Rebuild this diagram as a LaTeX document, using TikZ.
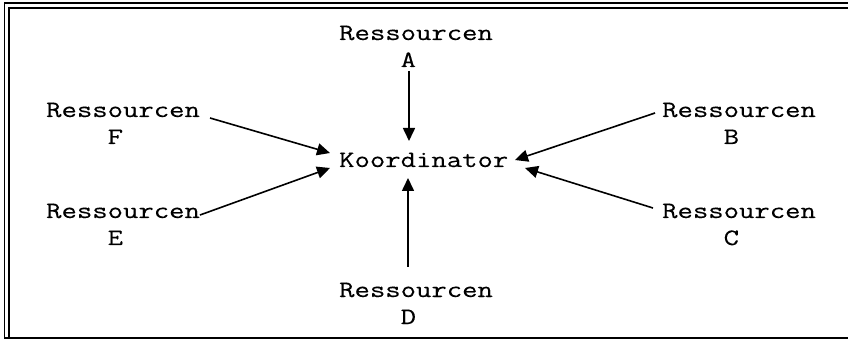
\documentclass[tikz,border=0pt]{standalone}
\usepackage{fontspec}
\newfontfamily\monofam[FakeStretch=1.27,FakeBold=0.25]{Latin Modern Mono}
\usetikzlibrary{calc,arrows.meta}
\begin{document}
\begin{tikzpicture}[x=1pt,y=1pt,
  lbl/.style={inner sep=0pt,anchor=base west,
    font=\monofam\fontsize{23.5pt}{27pt}\selectfont},
  arr/.style={line width=1.6pt,-{Triangle[length=13pt,width=12pt]}},
  frame/.style={line width=1.5pt}]
\useasboundingbox (0,0) rectangle (848,340);
% double-ruled frame, open to the right
\draw[frame] (4.5,1.5) -- (4.5,337) -- (848,337);
\draw[frame] (9,2) -- (9,332) -- (848,332);
\draw[frame] (4,2) -- (848,2);
% centre and the six resource labels
\node[lbl] (K) at (339,173) {Koordinator};
\node[lbl] (A) at (339,300) {\begin{tabular}[t]{@{}l@{}}Ressourcen\\\phantom{Ress}A\end{tabular}};
\node[lbl] (F) at (46,223) {\begin{tabular}[t]{@{}l@{}}Ressourcen\\\phantom{Ress}F\end{tabular}};
\node[lbl] (B) at (662,223) {\begin{tabular}[t]{@{}l@{}}Ressourcen\\\phantom{Ress}B\end{tabular}};
\node[lbl] (E) at (46,122) {\begin{tabular}[t]{@{}l@{}}Ressourcen\\\phantom{Ress}E\end{tabular}};
\node[lbl] (C) at (662,122) {\begin{tabular}[t]{@{}l@{}}Ressourcen\\\phantom{Ress}C\end{tabular}};
\node[lbl] (D) at (339,43) {\begin{tabular}[t]{@{}l@{}}Ressourcen\\\phantom{Ress}D\end{tabular}};
% arrows into the coordinator
\draw[arr] ($(A.base west)+(70,-31)$) -- ($(K.base west)+(70,26)$);
\draw[arr] ($(D.base west)+(69,30)$) -- ($(K.base west)+(69,-11)$);
\draw[arr] ($(F.base west)+(164,-1)$) -- ($(K.base west)+(-9,14)$);
\draw[arr] ($(E.base west)+(154,3)$) -- ($(K.base west)+(-9,-1)$);
\draw[arr] ($(B.base west)+(-7,4)$) -- ($(K.base west)+(176,7)$);
\draw[arr] ($(C.base west)+(-9,10)$) -- ($(K.base west)+(186,-1)$);
\end{tikzpicture}
\end{document}
